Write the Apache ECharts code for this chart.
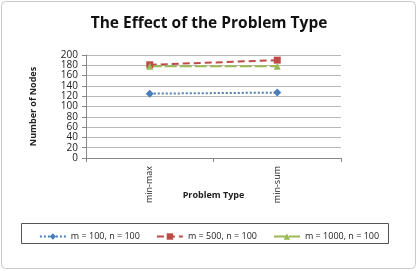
<!DOCTYPE html>
<html>
<head>
<meta charset="utf-8">
<script src="https://cdn.jsdelivr.net/npm/echarts@6/dist/echarts.min.js"></script>
<style>
  html, body { margin: 0; padding: 0; background: #fff; }
  #chart { width: 418px; height: 271px; }
</style>
</head>
<body>
<div id="chart"></div>
<script>
// data
var categories = ['min-max', 'min-sum'];
var seriesNames = ['m = 100, n = 100', 'm = 500, n = 100', 'm = 1000, n = 100'];
var m100 = [125, 127];
var m500 = [181, 190];
var m1000 = [178, 178];

var chart = echarts.init(document.getElementById('chart'), null, { renderer: 'canvas' });

var font = 'Open Sans, Lato, sans-serif';

var option = {
  backgroundColor: '#fff',
  animation: false,
  textStyle: { fontFamily: font },
  title: {
    text: 'The Effect of the Problem Type',
    left: 'center',
    top: 11,
    textStyle: { fontSize: 15.5, fontWeight: 'bold', color: '#111', fontFamily: font }
  },
  graphic: [
    {
      type: 'rect',
      shape: { x: 1.5, y: 1.5, width: 414, height: 267, r: 4 },
      style: { fill: 'none', stroke: '#c8c8c8', lineWidth: 1 },
      silent: true
    },
    {
      type: 'rect',
      shape: { x: 21.5, y: 223.5, width: 367, height: 20 },
      style: { fill: 'none', stroke: '#555', lineWidth: 1 },
      silent: true
    }
  ],
  grid: { left: 86, right: 77, top: 55, bottom: 113 },
  legend: {
    data: seriesNames,
    left: 'center',
    top: 227,
    itemWidth: 26,
    itemHeight: 8,
    itemGap: 16,
    textStyle: { fontSize: 9, color: '#222' }
  },
  xAxis: {
    type: 'category',
    data: categories,
    boundaryGap: true,
    name: 'Problem Type',
    nameLocation: 'middle',
    nameGap: 33,
    nameMoveOverlap: false,
    nameTextStyle: { fontSize: 9, fontWeight: 'bold', color: '#222' },
    axisLine: { lineStyle: { color: '#888' } },
    axisTick: { show: true, alignWithLabel: false, length: 4, lineStyle: { color: '#888' } },
    axisLabel: { rotate: 90, fontSize: 9, color: '#222', margin: 8 },
    splitLine: { show: false }
  },
  yAxis: {
    type: 'value',
    min: 0,
    max: 200,
    interval: 20,
    name: 'Number of Nodes',
    nameLocation: 'middle',
    nameGap: 48,
    nameMoveOverlap: false,
    nameTextStyle: { fontSize: 9, fontWeight: 'bold', color: '#222' },
    axisLine: { show: true, lineStyle: { color: '#888' } },
    axisTick: { show: true, length: 4, lineStyle: { color: '#888' } },
    axisLabel: { fontSize: 10, color: '#222', margin: 8 },
    splitLine: { lineStyle: { color: '#b8b8b8', width: 1 } }
  },
  series: [
    {
      name: seriesNames[0],
      type: 'line',
      data: m100,
      symbol: 'diamond',
      symbolSize: 8,
      itemStyle: { color: '#4a7ebb' },
      lineStyle: { color: '#4a7ebb', width: 2, type: [2, 2] }
    },
    {
      name: seriesNames[1],
      type: 'line',
      data: m500,
      symbol: 'rect',
      symbolSize: 7,
      itemStyle: { color: '#be4b48' },
      lineStyle: { color: '#be4b48', width: 2, type: [7, 4] }
    },
    {
      name: seriesNames[2],
      type: 'line',
      data: m1000,
      symbol: 'triangle',
      symbolSize: 7,
      itemStyle: { color: '#98b954' },
      lineStyle: { color: '#98b954', width: 2, type: [12, 3] }
    }
  ]
};

chart.setOption(option);
</script>
</body>
</html>
